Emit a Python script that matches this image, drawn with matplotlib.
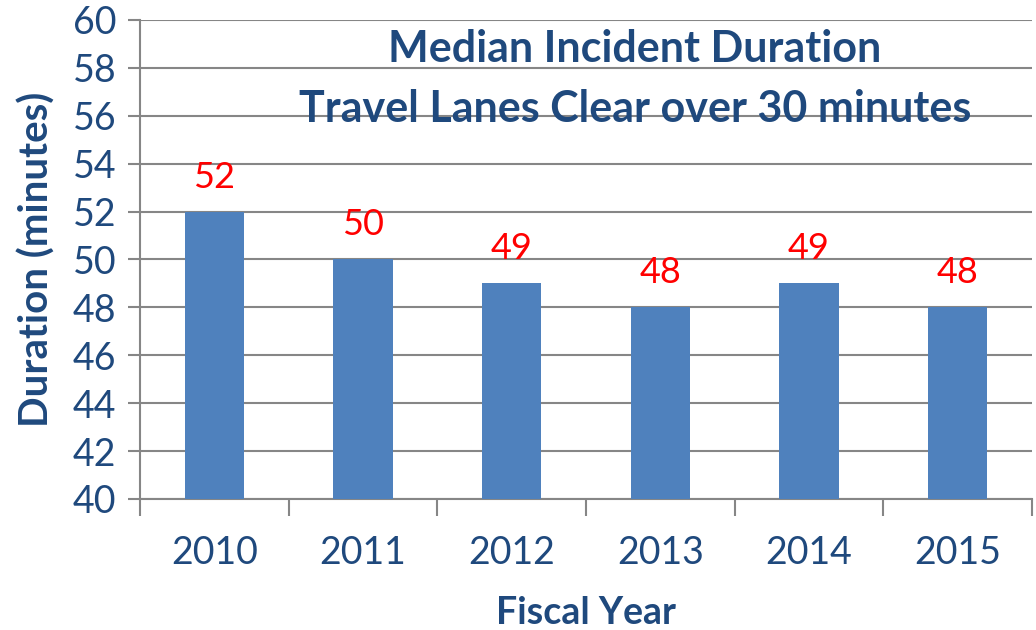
import matplotlib
matplotlib.use("Agg")
import matplotlib.pyplot as plt
import numpy as np

# data
years = ["2010", "2011", "2012", "2013", "2014", "2015"]
durations = [52, 50, 49, 48, 49, 48]

navy = "#1F497D"
bar_color = "#4F81BD"
grid_color = "#868686"

plt.rcParams["font.family"] = ["Lato", "DejaVu Sans"]

fig = plt.figure(figsize=(10.36, 6.3), dpi=100)
ax = fig.add_axes([140 / 1036, 131 / 630, 892 / 1036, 479 / 630])

x = np.arange(len(years))
ax.bar(x, durations, width=0.4, color=bar_color, zorder=3)

for xi, v in zip(x, durations):
    ax.annotate(str(v), (xi, v), xytext=(0, 13), textcoords="offset points",
                ha="center", va="bottom", color="red", fontsize=26)

ax.set_ylim(40, 60)
ax.set_yticks(np.arange(40, 61, 2))
ax.set_xlim(-0.5, len(years) - 0.5)
ax.set_xticks(x)
ax.set_xticklabels(years)
ax.set_xticks(np.arange(-0.5, len(years), 1), minor=True)

ax.grid(axis="y", color=grid_color, linewidth=1.5, zorder=0)
ax.tick_params(axis="y", colors=grid_color, labelcolor=navy, labelsize=27,
               length=9, width=1.5, pad=8)
ax.tick_params(axis="x", which="major", length=0, labelcolor=navy,
               labelsize=27, pad=26)
ax.tick_params(axis="x", which="minor", length=12, width=1.5, color=grid_color)

for side in ["top", "right"]:
    ax.spines[side].set_visible(False)
for side in ["left", "bottom"]:
    ax.spines[side].set_color(grid_color)
    ax.spines[side].set_linewidth(1.5)

ax.set_xlabel("Fiscal Year", color=navy, fontsize=27, fontweight="bold", labelpad=18)
ax.set_ylabel("Duration (minutes)", color=navy, fontsize=29, fontweight="bold", labelpad=12)

ax.text(0.555, 0.94, "Median Incident Duration", transform=ax.transAxes,
        ha="center", va="center", color=navy, fontsize=31, fontweight="bold")
ax.text(0.555, 0.815, "Travel Lanes Clear over 30 minutes", transform=ax.transAxes,
        ha="center", va="center", color=navy, fontsize=31, fontweight="bold")

fig.savefig("out.png", dpi=100)
